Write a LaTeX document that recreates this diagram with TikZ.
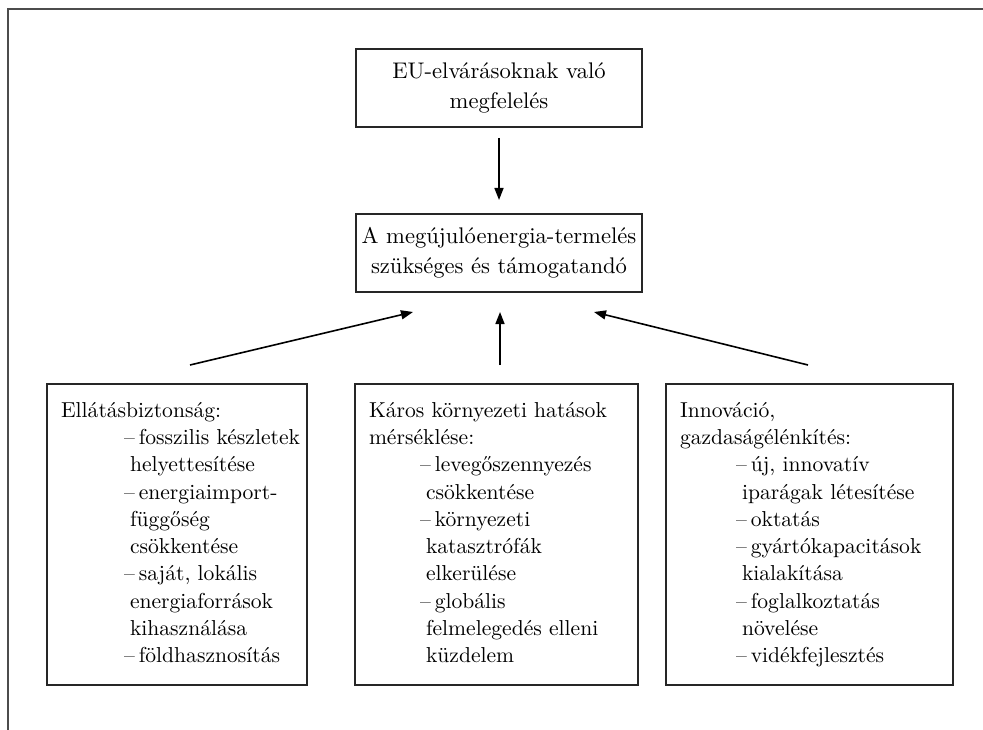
\documentclass[tikz,border=0pt]{standalone}
\usepackage{fontspec}
\setmainfont{lmroman10-regular.otf}
\usetikzlibrary{arrows.meta}

\newcommand{\tetel}[2]{\mbox{\hspace*{#1}--\hspace{4pt}#2}}
\newcommand{\folyt}[2]{\mbox{\hspace*{#1}\hspace*{6pt}#2}}

\begin{document}
\begin{tikzpicture}[x=1pt, y=-1pt,
    keret/.style={draw=black!70, line width=1.5pt},
    fodoboz/.style={draw=black!85, line width=2pt, outer sep=0pt, align=center, minimum width=286pt, minimum height=78pt,
      font=\fontsize{22.6}{30}\selectfont},
    okdoboz/.style={draw=black!85, line width=2pt, outer sep=0pt, align=left, anchor=north west, inner xsep=14pt, inner ysep=14pt,
      font=\fontsize{21.6}{27.3}\selectfont},
    nyil/.style={line width=1.6pt, -{Triangle[length=12pt, width=9pt]}}]
  \useasboundingbox (0,0) rectangle (983,730);
  % keret
  \draw[keret] (8,730) -- (8,9) -- (983,9);

  \node[fodoboz] (eu) at (499,88) {EU-elvárásoknak való\\megfelelés};
  \node[fodoboz] (megujulo) at (499,253) {A megújulóenergia-termelés\\szükséges és támogatandó};

  \node[okdoboz, text width=232pt] (ellatas) at (47,384) {\strut Ellátásbiztonság:\\
    \tetel{63pt}{fosszilis készletek}\\
    \folyt{63pt}{helyettesítése}\\
    \tetel{63pt}{energiaimport-}\\
    \folyt{63pt}{függőség}\\
    \folyt{63pt}{csökkentése}\\
    \tetel{63pt}{saját, lokális}\\
    \folyt{63pt}{energiaforrások}\\
    \folyt{63pt}{kihasználása}\\
    \tetel{63pt}{földhasznosítás}\strut\par\vspace*{25pt}};
  \node[okdoboz, text width=255pt] (karos) at (355,384) {\strut Káros környezeti hatások\\
    mérséklése:\\
    \tetel{51pt}{levegőszennyezés}\\
    \folyt{51pt}{csökkentése}\\
    \tetel{51pt}{környezeti}\\
    \folyt{51pt}{katasztrófák}\\
    \folyt{51pt}{elkerülése}\\
    \tetel{51pt}{globális}\\
    \folyt{51pt}{felmelegedés elleni}\\
    \folyt{51pt}{küzdelem}\strut\par\vspace*{25pt}};
  \node[okdoboz, text width=259pt] (innovacio) at (666,384) {\strut Innováció,\\
    gazdaságélénkítés:\\
    \tetel{56pt}{új, innovatív}\\
    \folyt{56pt}{iparágak létesítése}\\
    \tetel{56pt}{oktatás}\\
    \tetel{56pt}{gyártókapacitások}\\
    \folyt{56pt}{kialakítása}\\
    \tetel{56pt}{foglalkoztatás}\\
    \folyt{56pt}{növelése}\\
    \tetel{56pt}{vidékfejlesztés}\strut\par\vspace*{25pt}};

  % nyilak
  \draw[nyil, shorten <=11pt, shorten >=14pt] (eu.south) -- (megujulo.north);
  \draw[nyil] ([shift={(13,-19)}]ellatas.north) -- ([shift={(-86,20)}]megujulo.south);
  \draw[nyil] ([shift={(3.5,-19)}]karos.north) -- ([shift={(1,20)}]megujulo.south);
  \draw[nyil] ([shift={(-1.5,-19)}]innovacio.north) -- ([shift={(95,20)}]megujulo.south);
\end{tikzpicture}
\end{document}
